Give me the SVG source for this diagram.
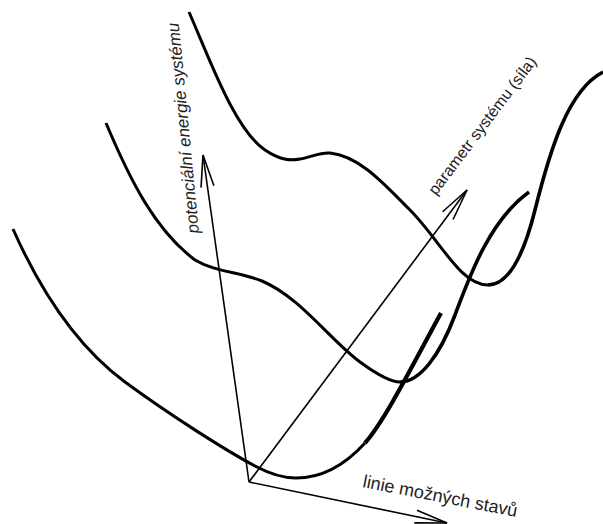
<svg xmlns="http://www.w3.org/2000/svg" width="603" height="524" viewBox="0 0 603 524">
<style>
.curve{fill:none;stroke:#000;stroke-width:3;stroke-linecap:butt;stroke-linejoin:round}
.thick{stroke-width:4.2}
.axis{fill:none;stroke:#000;stroke-width:1.6}
.lbl{font-family:"Liberation Sans",Arial,sans-serif;fill:#222}
</style>
<defs>
<marker id="arr" markerUnits="userSpaceOnUse" viewBox="-34 -9 36 18" refX="0" refY="0" markerWidth="36" markerHeight="18" orient="auto" overflow="visible">
<path d="M-32,-6.5 L0,0 L-32,6.5" fill="none" stroke="#000" stroke-width="1.6"/>
</marker>
</defs>
<rect width="603" height="524" fill="#fff"/>
<g id="curves">
<g id="curve-low">
<path class="curve" d="M13,229 C40,290 75,345 125,382 C170,415 225,450 255,466 C270,474 282,478 296,478 C322,478 345,465 365,443"/>
<path class="curve thick" d="M365,443 C385,420 410,370 441,313"/>
</g>
<g id="curve-mid">
<path class="curve" d="M106,123 C130,180 155,230 195,260 C215,272 240,272 262,281 C300,297 330,340 360,362 C375,373 390,382 400,382"/>
<path class="curve" style="stroke-width:3.6" d="M400,382 C420,382 440,355 455,315 C470,275 490,220 529,192"/>
</g>
<g id="curve-high">
<path class="curve" d="M189,12 C210,60 235,130 265,150 C280,160 290,161 300,159 C312,157 320,152 330,153 C360,156 385,185 410,210 C440,240 460,285 488,285"/>
<path class="curve" style="stroke-width:3.6" d="M488,285 C510,285 525,250 535,210 C550,150 568,90 603,72"/>
</g>
</g>
<g id="axes">
<line id="axis-energy" class="axis" x1="249" y1="482" x2="203" y2="155" marker-end="url(#arr)"/>
<line id="axis-param" class="axis" x1="249" y1="482" x2="467" y2="190" marker-end="url(#arr)"/>
<line id="axis-states" class="axis" x1="249" y1="482" x2="447" y2="523" marker-end="url(#arr)"/>
</g>
<g id="labels">
<text class="lbl" font-size="17" font-style="italic" transform="translate(199,233) rotate(-95.5)">potenciální energie systému</text>
<text class="lbl" font-size="16" transform="translate(436,196) rotate(-53)">parametr systému (síla)</text>
<text class="lbl" font-size="18" transform="translate(362,487) rotate(11)">linie možných stavů</text>
</g>
</svg>
